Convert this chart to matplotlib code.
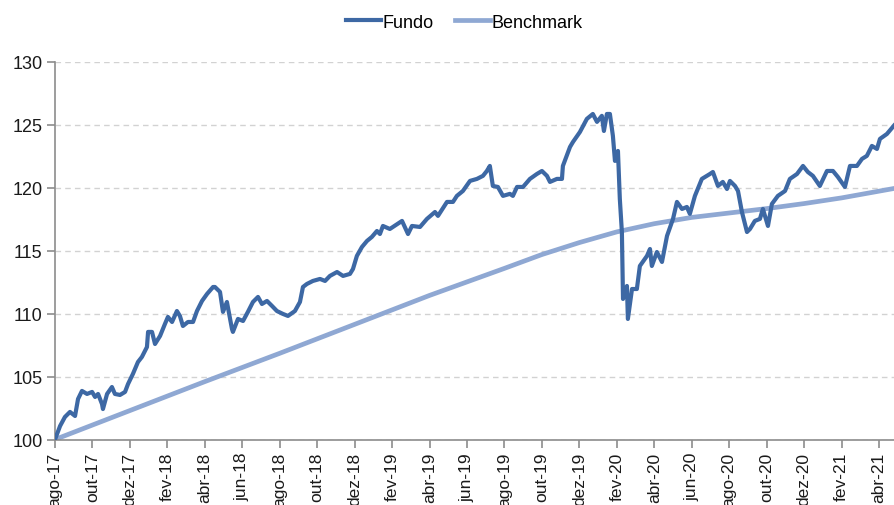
import matplotlib.pyplot as plt
from matplotlib import font_manager

# month offsets counted from ago-17 (0 = start of Aug 2017)
fundo_m = [0.00, 0.27, 0.53, 0.80, 1.07, 1.23, 1.44, 1.71, 1.98, 2.14, 2.30, 2.51, 2.56, 2.78,
           3.04, 3.20, 3.47, 3.74, 3.90, 4.16, 4.43, 4.64, 4.91, 4.97, 5.18, 5.34, 5.61, 5.87,
           6.03, 6.25, 6.51, 6.67, 6.83, 7.10, 7.37, 7.58, 7.85, 8.12, 8.44, 8.54, 8.81, 8.97,
           9.18, 9.45, 9.50, 9.77, 10.04, 10.30, 10.57, 10.84, 11.05, 11.32, 11.59, 11.85,
           12.17, 12.44, 12.81, 13.08, 13.24, 13.45, 13.77, 14.15, 14.42, 14.68, 15.06, 15.38,
           15.75, 15.91, 16.12, 16.39, 16.66, 16.92, 17.19, 17.35, 17.51, 17.88, 18.53, 18.85,
           19.06, 19.49, 19.86, 20.29, 20.45, 20.93, 21.25, 21.46, 21.78, 22.16, 22.53, 22.85,
           23.06, 23.22, 23.38, 23.65, 23.92, 24.29, 24.45, 24.67, 24.99, 25.36, 25.73, 26.00,
           26.27, 26.43, 26.80, 27.07, 27.12, 27.50, 27.66, 28.03, 28.40, 28.72, 28.94, 29.20,
           29.31, 29.47, 29.63, 29.79, 29.90, 30.06, 30.16, 30.27, 30.33, 30.54, 30.59, 30.81,
           31.07, 31.23, 31.61, 31.77, 31.87, 32.14, 32.41, 32.68, 33.00, 33.21, 33.48, 33.74,
           33.90, 34.17, 34.54, 34.97, 35.13, 35.40, 35.66, 35.88, 36.04, 36.31, 36.47, 36.68,
           36.95, 37.11, 37.37, 37.64, 37.80, 38.07, 38.28, 38.60, 38.98, 39.24, 39.62, 39.94,
           40.20, 40.47, 40.84, 41.22, 41.54, 41.80, 42.18, 42.45, 42.82, 43.09, 43.35, 43.62,
           43.89, 44.05, 44.42, 44.80]
fundo = [100.00, 101.07, 101.79, 102.19, 101.87, 103.22, 103.86, 103.62, 103.78, 103.38, 103.62,
         102.82, 102.42, 103.62, 104.17, 103.62, 103.54, 103.78, 104.41, 105.21, 106.16, 106.56,
         107.35, 108.55, 108.55, 107.59, 108.23, 109.18, 109.74, 109.34, 110.21, 109.82, 109.02,
         109.34, 109.34, 110.21, 111.01, 111.57, 112.12, 112.12, 111.73, 110.14, 110.93, 108.78,
         108.55, 109.58, 109.42, 110.14, 110.93, 111.33, 110.77, 111.01, 110.61, 110.21, 109.98,
         109.82, 110.21, 110.93, 112.12, 112.36, 112.60, 112.76, 112.60, 113.00, 113.31, 113.00,
         113.16, 113.55, 114.59, 115.30, 115.78, 116.10, 116.57, 116.33, 116.97, 116.73, 117.37,
         116.33, 116.97, 116.89, 117.53, 118.08, 117.77, 118.88, 118.88, 119.36, 119.75, 120.55,
         120.71, 120.95, 121.34, 121.74, 120.15, 120.07, 119.36, 119.52, 119.36, 120.07, 120.07,
         120.71, 121.10, 121.34, 120.95, 120.47, 120.71, 120.71, 121.74, 123.25, 123.65, 124.44,
         125.48, 125.87, 125.24, 125.72, 124.52, 125.87, 125.87, 124.13, 122.14, 122.93, 119.12,
         116.49, 111.17, 112.20, 109.58, 111.96, 111.96, 113.79, 114.59, 115.14, 113.79, 114.90,
         114.11, 116.18, 117.53, 118.88, 118.32, 118.48, 117.93, 119.36, 120.71, 121.10, 121.26,
         120.15, 120.47, 119.91, 120.55, 120.15, 119.75, 118.08, 116.49, 116.73, 117.37, 117.53,
         118.32, 116.97, 118.72, 119.36, 119.75, 120.71, 121.10, 121.74, 121.26, 120.95, 120.15,
         121.34, 121.34, 120.87, 120.07, 121.74, 121.74, 122.30, 122.54, 123.33, 123.09, 123.89,
         124.28, 124.95]

bench_m = [0, 4, 8, 12, 16, 20, 24, 26, 28, 30, 32, 34, 36, 38, 40, 42, 44.8]
bench = [100.00, 102.30, 104.60, 106.85, 109.15, 111.45, 113.60, 114.70, 115.65, 116.50,
         117.15, 117.65, 118.00, 118.35, 118.75, 119.20, 119.95]

tick_labels = ['ago-17', 'out-17', 'dez-17', 'fev-18', 'abr-18', 'jun-18', 'ago-18', 'out-18',
               'dez-18', 'fev-19', 'abr-19', 'jun-19', 'ago-19', 'out-19', 'dez-19', 'fev-20',
               'abr-20', 'jun-20', 'ago-20', 'out-20', 'dez-20', 'fev-21', 'abr-21']

names = {f.name for f in font_manager.fontManager.ttflist}
narrow = 'Liberation Sans Narrow' if 'Liberation Sans Narrow' in names else 'Liberation Sans'
plt.rcParams['font.family'] = ['Liberation Sans', 'DejaVu Sans']

fig = plt.figure(figsize=(8.94, 5.06), dpi=100)
ax = fig.add_axes([55 / 894, 1 - 440.5 / 506, 1 - 55 / 894, (440.5 - 63) / 506])

ax.plot(fundo_m, fundo, color='#3D68A4', lw=3.0, label='Fundo', zorder=3, solid_joinstyle='round')
ax.plot(bench_m, bench, color='#8FA8D3', lw=3.4, label='Benchmark', zorder=2)

ax.set_xlim(0, 44.8)
ax.set_ylim(100, 130)
ax.set_yticks(range(100, 131, 5))
ax.set_xticks(range(0, 45, 2))
ax.set_xticklabels(tick_labels, rotation=90, fontsize=12.5, color='#1A1A1A')
for t in ax.get_yticklabels():
    t.set_fontfamily(narrow)
    t.set_fontsize(13)
    t.set_color('#1A1A1A')

ax.grid(axis='y', color='#D2D2D2', linestyle=(0, (4, 3)), lw=1.0)
ax.set_axisbelow(True)
for s in ['top', 'right']:
    ax.spines[s].set_visible(False)
for s in ['left', 'bottom']:
    ax.spines[s].set_color('#8C8C8C')
    ax.spines[s].set_linewidth(1.2)
ax.tick_params(axis='both', color='#8C8C8C', length=6, width=1.2, pad=3)

fig.legend(loc='center', bbox_to_anchor=(464.5 / 894, 1 - 23 / 506), ncol=2, frameon=False,
           handlelength=1.9, handletextpad=0.1, columnspacing=1.2,
           prop={'family': narrow, 'size': 13})

fig.savefig('out.png', dpi=100)
